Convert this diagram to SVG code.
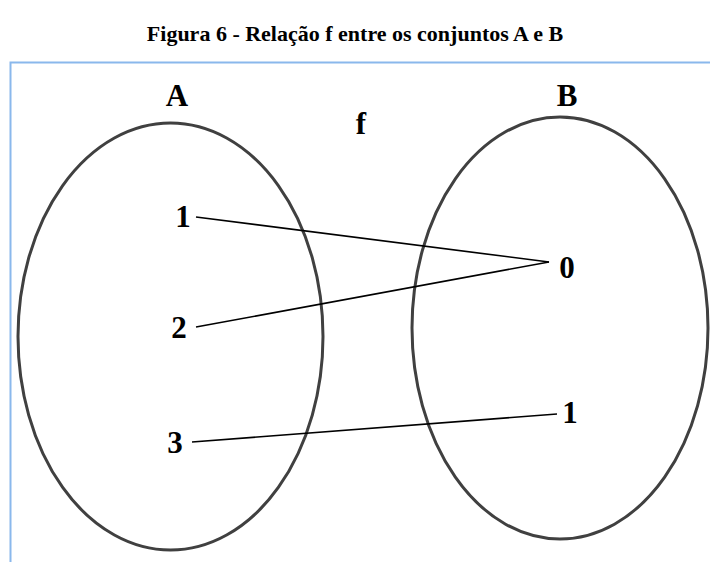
<svg xmlns="http://www.w3.org/2000/svg" width="710" height="562" viewBox="0 0 710 562">
<style>
.title{font-family:"Liberation Serif","Times New Roman",serif;font-weight:bold;font-size:22px;fill:#000}
.lbl{font-family:"Liberation Serif","Times New Roman",serif;font-weight:bold;font-size:31px;fill:#000}
.set{fill:none;stroke:#404040;stroke-width:3}
.con{stroke:#000;stroke-width:1.6;fill:none}
</style>
<rect width="710" height="562" fill="#fff"/>
<text class="title" x="355" y="41" text-anchor="middle">Figura 6 - Relação f entre os conjuntos A e B</text>
<path d="M10.5 562 V62.5 H710" fill="none" stroke="#8ab8ec" stroke-width="2"/>
<g id="setA">
<ellipse class="set" cx="170.5" cy="336.5" rx="152.5" ry="213.5"/>
<text class="lbl" x="177" y="106" text-anchor="middle">A</text>
</g>
<g id="setB">
<ellipse class="set" cx="560" cy="328" rx="148" ry="211"/>
<text class="lbl" x="567" y="106" text-anchor="middle">B</text>
</g>
<g id="labelF"><text class="lbl" x="361" y="134" text-anchor="middle">f</text></g>
<g id="a1"><text class="lbl" x="183" y="227" text-anchor="middle">1</text></g>
<g id="a2"><text class="lbl" x="179" y="338" text-anchor="middle">2</text></g>
<g id="a3"><text class="lbl" x="175" y="453" text-anchor="middle">3</text></g>
<g id="b0"><text class="lbl" x="567" y="278" text-anchor="middle">0</text></g>
<g id="b1"><text class="lbl" x="570" y="423" text-anchor="middle">1</text></g>
<g id="connectors">
<line class="con" x1="196" y1="217" x2="549" y2="262"/>
<line class="con" x1="196" y1="327" x2="549" y2="262"/>
<line class="con" x1="192" y1="442" x2="557" y2="414"/>
</g>
</svg>
